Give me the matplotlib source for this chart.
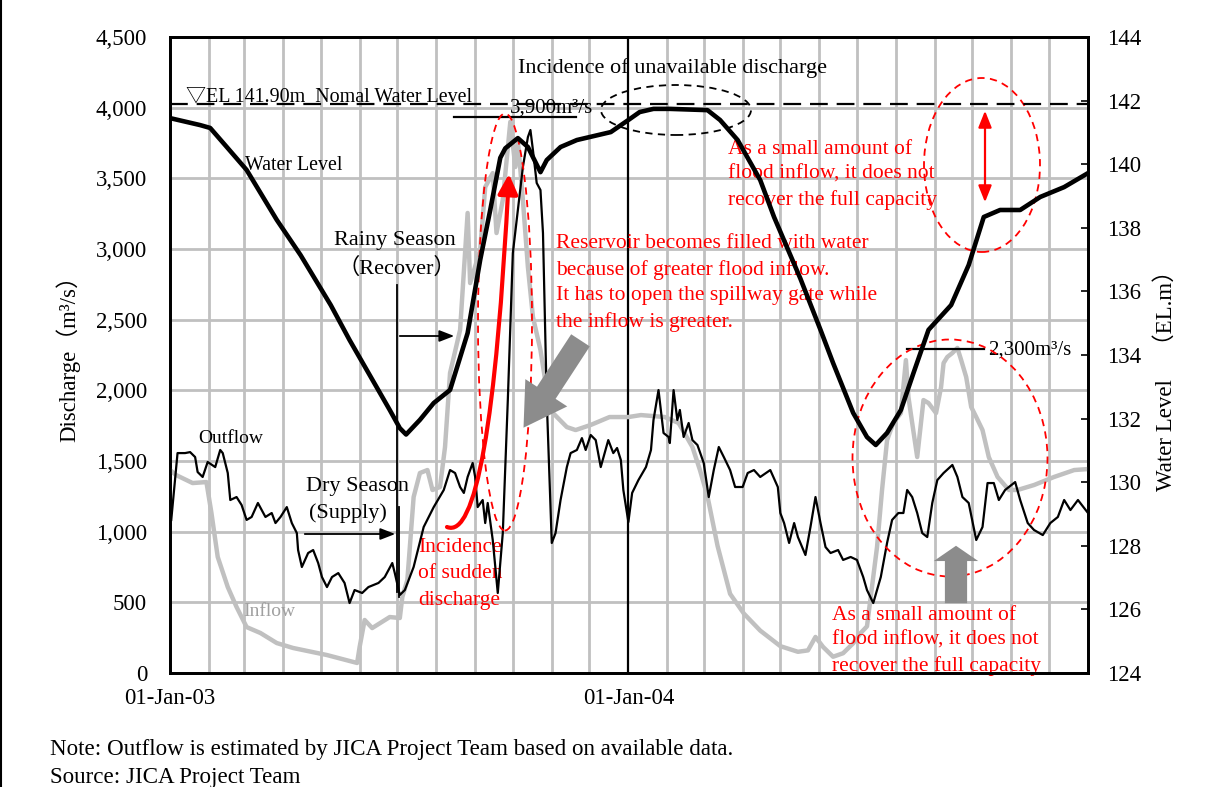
import numpy as np
import matplotlib
matplotlib.use("Agg")
import matplotlib.pyplot as plt
import matplotlib.dates as mdates
from matplotlib.patches import Ellipse, FancyArrowPatch
from matplotlib.path import Path
from matplotlib.ticker import FuncFormatter, MultipleLocator

plt.rcParams['font.family'] = ['Liberation Serif', 'Noto Sans CJK JP', 'DejaVu Sans']

# ---------------- data (day offset from 01-Jan-2003) ----------------
start_date = np.datetime64('2003-01-01')

inflow_day = [0, 5, 8, 18, 29, 33, 38, 46, 53, 61,
              72, 85, 98, 125, 149, 151, 155, 161, 175, 183,
              185, 189, 194, 199, 205, 209, 215, 219, 223, 231,
              237, 239, 247, 251, 257, 260, 265, 271, 275, 277,
              281, 285, 289, 295, 300, 305, 316, 323, 335, 350,
              365, 375, 394, 405, 416, 422, 428, 436, 446, 457,
              470, 486, 500, 508, 514, 520, 528, 536, 544, 550,
              555, 563, 567, 571, 576, 582, 586, 588, 591, 595,
              600, 604, 610, 614, 616, 619, 623, 627, 630, 634,
              638, 642, 647, 652, 659, 668, 675, 688, 704, 720,
              731]
inflow_q = [1436, 1400, 1387, 1344, 1351, 1132, 821, 608, 467, 325,
            283, 212, 177, 127, 71, 184, 375, 318, 396, 389,
            538, 658, 1245, 1415, 1436, 1295, 1316, 1599, 2123, 2427,
            3255, 2759, 2993, 3438, 3537, 3113, 3347, 3900, 3580, 3771,
            3347, 2872, 2519, 2285, 2002, 1839, 1740, 1719, 1755, 1811,
            1811, 1825, 1811, 1769, 1599, 1436, 1250, 900, 560, 420,
            300, 190, 150, 160, 255, 185, 115, 140, 210, 283,
            330, 891, 1295, 1648, 1769, 1839, 2214, 1953, 1769, 1528,
            1931, 1910, 1839, 2023, 2193, 2236, 2264, 2300, 2214, 2094,
            1882, 1811, 1719, 1528, 1387, 1295, 1295, 1330, 1387, 1436,
            1443]

outflow_day = [1, 6, 12, 16, 20, 22, 26, 30, 36, 40,
               42, 46, 48, 53, 57, 61, 65, 70, 76, 81,
               84, 88, 93, 97, 101, 102, 105, 110, 114, 118,
               121, 125, 129, 134, 139, 143, 147, 153, 158, 166,
               171, 177, 179, 183, 187, 194, 202, 210, 218, 223,
               227, 231, 234, 237, 241, 243, 245, 249, 251, 253,
               257, 261, 265, 269, 273, 277, 281, 285, 287, 289,
               292, 295, 297, 300, 304, 307, 311, 316, 319, 324,
               328, 331, 335, 339, 343, 349, 353, 356, 359, 361,
               365, 368, 373, 379, 383, 385, 389, 393, 397, 398,
               401, 404, 406, 409, 413, 416, 420, 425, 429, 433,
               437, 441, 446, 450, 456, 460, 465, 470, 478, 484,
               486, 489, 493, 497, 500, 506, 510, 514, 518, 522,
               526, 532, 536, 542, 547, 552, 555, 560, 566, 571,
               575, 580, 584, 587, 591, 595, 599, 603, 607, 611,
               616, 623, 627, 631, 636, 642, 647, 651, 656, 660,
               665, 673, 677, 683, 688, 695, 701, 707, 712, 717,
               723, 731]
outflow_q = [1083, 1556, 1556, 1563, 1528, 1422, 1387, 1493, 1457, 1578,
             1556, 1415, 1224, 1245, 1189, 1083, 1104, 1203, 1104, 1132,
             1061, 1104, 1174, 1061, 990, 870, 750, 849, 870, 778,
             679, 608, 679, 707, 637, 495, 587, 566, 608, 637,
             679, 778, 707, 552, 587, 750, 1033, 1174, 1295, 1436,
             1415, 1316, 1274, 1387, 1486, 1387, 1174, 1224, 1061, 1203,
             941, 566, 990, 1931, 2971, 3276, 3580, 3792, 3842, 3700,
             3467, 3417, 3113, 1931, 920, 990, 1224, 1457, 1556, 1578,
             1662, 1578, 1684, 1648, 1457, 1648, 1556, 1592, 1507, 1295,
             1068, 1274, 1365, 1457, 1578, 1790, 2002, 1698, 1670, 1627,
             2002, 1790, 1861, 1670, 1769, 1648, 1613, 1486, 1245, 1436,
             1599, 1528, 1436, 1316, 1316, 1415, 1436, 1387, 1436, 1316,
             1132, 1061, 920, 1061, 962, 835, 1033, 1245, 1061, 891,
             849, 870, 800, 821, 800, 679, 587, 495, 679, 920,
             1083, 1132, 1132, 1295, 1245, 1132, 990, 962, 1203, 1365,
             1415, 1472, 1387, 1245, 1203, 941, 1033, 1344, 1344, 1224,
             1295, 1351, 1224, 1061, 1012, 976, 1061, 1104, 1224, 1153,
             1224, 1132]

level_day = [0, 24, 32, 45, 61, 85, 104, 128, 143, 159,
             175, 183, 188, 199, 210, 223, 237, 247, 255, 263,
             267, 277, 285, 295, 300, 311, 324, 351, 365, 374,
             385, 398, 428, 438, 452, 470, 481, 502, 518, 528,
             544, 555, 562, 571, 582, 592, 604, 622, 636, 648,
             661, 677, 693, 712, 731]
level_el = [141.45, 141.23, 141.14, 140.55, 139.82, 138.25, 137.14, 135.57, 134.47, 133.37,
            132.27, 131.70, 131.50, 131.96, 132.49, 132.90, 134.69, 136.99, 138.56, 140.20,
            140.50, 140.82, 140.54, 139.75, 140.13, 140.54, 140.76, 141.01, 141.39, 141.64,
            141.74, 141.74, 141.70, 141.39, 140.76, 139.50, 138.34, 136.40, 134.79, 133.75,
            132.18, 131.42, 131.17, 131.55, 132.27, 133.43, 134.79, 135.57, 136.83, 138.34,
            138.56, 138.56, 138.97, 139.28, 139.72]

normal_water_level = 141.90
x_tick_dates = ['2003-01-01', '2004-01-01']
x_tick_labels = ['01-Jan-03', '01-Jan-04']


def to_dates(days):
    return start_date + np.array(days, dtype='timedelta64[D]')


# ---------------- figure ----------------
W, H = 1228, 787
fig = plt.figure(figsize=(W / 100, H / 100), dpi=100)
ax = fig.add_axes([170 / W, 1 - 673 / H, 918 / W, 636 / H])

GRID = '#c0c0c0'
TICK_FS = 16.5
ax.plot(to_dates(inflow_day), inflow_q, color=GRID, lw=3.2, solid_joinstyle='round', zorder=3)
ax.plot(to_dates(outflow_day), outflow_q, color='black', lw=1.6, zorder=4)

ax.set_xlim(start_date, start_date + np.timedelta64(731, 'D'))
ax.set_ylim(0, 4500)
ax.yaxis.set_major_locator(MultipleLocator(500))
ax.yaxis.set_major_formatter(FuncFormatter(lambda v, p: f'{int(v):,}'))
ax.set_xticks(np.array(x_tick_dates, dtype='datetime64[D]'))
ax.set_xticklabels(x_tick_labels)
ax.xaxis.set_minor_locator(mdates.MonthLocator())
ax.set_axisbelow(True)
ax.grid(which='major', axis='y', color=GRID, lw=2)
ax.grid(which='minor', axis='x', color=GRID, lw=2)
ax.tick_params(axis='y', length=0, pad=16.5, labelsize=TICK_FS)
ax.tick_params(axis='x', which='both', length=0, pad=11, labelsize=TICK_FS)
ax.axvline(np.datetime64('2004-01-01'), color='black', lw=1.6, zorder=2.5)
for s in ax.spines.values():
    s.set_linewidth(2)

ax2 = ax.twinx()
ax2.plot(to_dates(level_day), level_el, color='black', lw=3.3, solid_joinstyle='round', zorder=5)
ax2.axhline(normal_water_level, color='black', lw=1.6, ls=(0, (8, 4)), zorder=4)
ax2.set_ylim(124, 144)
ax2.yaxis.set_major_locator(MultipleLocator(2))
ax2.tick_params(axis='y', direction='in', length=5, width=1.2, pad=13.5, labelsize=TICK_FS)
for s in ax2.spines.values():
    s.set_linewidth(2)

# axis titles
fig.text(68 / W, 1 - 353 / H, 'Discharge（m³/s）', rotation=90, ha='center', va='center', fontsize=16.5)
fig.text(1166 / W, 1 - 375 / H, 'Water Level　（EL.m）', rotation=90, ha='center', va='center', fontsize=16.5)

# notes
fig.text(50 / W, 1 - 750 / H, 'Note: Outflow is estimated by JICA Project Team based on available data.',
         ha='left', va='center', fontsize=16.6)
fig.text(50 / W, 1 - 777 / H, 'Source: JICA Project Team', ha='left', va='center', fontsize=16.6)


# ---------------- annotations (axes-fraction positions) ----------------
def P(x, y):
    return ((x - 170) / 918, (673 - y) / 636)


T = ax.transAxes
RED = '#ff0000'
FS = 16
RFS = 15.5

ax.text(*P(672, 68), 'Incidence of unavailable discharge', transform=T, ha='center', va='center', fontsize=FS)
ax.text(*P(186, 98), '▽EL 141.90m  Nomal Water Level', transform=T, ha='left', va='center', fontsize=14.4)
ax.text(*P(510, 108), '3,900m³/s', transform=T, ha='left', va='center', fontsize=15)
ax.plot(*zip(P(454, 117), P(576, 117)), transform=T, color='black', lw=1.6, zorder=6)
ax.text(*P(245, 165), 'Water Level', transform=T, ha='left', va='center', fontsize=14.3)
ax.text(*P(395, 241), 'Rainy Season', transform=T, ha='center', va='center', fontsize=FS)
ax.text(*P(397, 268), '（Recover）', transform=T, ha='center', va='center', fontsize=FS)
ax.plot(*zip(P(397, 285), P(397, 592)), transform=T, color='black', lw=1.3, zorder=6)
ax.annotate('', xy=P(457, 336), xytext=P(397, 336), xycoords=T, textcoords=T,
            arrowprops=dict(arrowstyle='-|>,head_length=0.9,head_width=0.35', color='black', lw=1.3))
ax.text(*P(357, 487), 'Dry Season', transform=T, ha='center', va='center', fontsize=FS)
ax.text(*P(348, 513), '(Supply)', transform=T, ha='center', va='center', fontsize=FS)
ax.plot(*zip(P(399, 507), P(399, 597)), transform=T, color='black', lw=1.3, zorder=6)
ax.annotate('', xy=P(398, 534), xytext=P(302, 534), xycoords=T, textcoords=T,
            arrowprops=dict(arrowstyle='-|>,head_length=0.9,head_width=0.35', color='black', lw=1.3))
ax.text(*P(198, 438), 'Outflow', transform=T, ha='left', va='center', fontsize=14)
ax.text(*P(243, 611), 'Inflow', transform=T, ha='left', va='center', fontsize=14, color='#a0a0a0')

ax.text(*P(418, 574), 'Incidence\nof sudden\ndischarge', transform=T, ha='left', va='center',
        fontsize=RFS, color=RED, linespacing=1.5)
ax.text(*P(556, 283), 'Reservoir becomes filled with water\nbecause of greater flood inflow.\n'
        'It has to open the spillway gate while\nthe inflow is greater.', transform=T,
        ha='left', va='center', fontsize=RFS, color=RED, linespacing=1.45)
ax.text(*P(728, 175), 'As a small amount of\nflood inflow, it does not\nrecover the full capacity',
        transform=T, ha='left', va='center', fontsize=RFS, color=RED, linespacing=1.42)
ax.text(*P(832, 641), 'As a small amount of\nflood inflow, it does not\nrecover the full capacity',
        transform=T, ha='left', va='center', fontsize=RFS, color=RED, linespacing=1.42)
ax.text(*P(988, 350), '2,300m³/s', transform=T, ha='left', va='center', fontsize=15)
ax.plot(*zip(P(907, 349), P(984, 349)), transform=T, color='black', lw=1.6, zorder=6)

# ellipses
for (cx, cy, w, h, col) in [(505, 322, 54, 417, RED), (676, 110, 150, 50, 'black'),
                            (982, 165, 116, 174, RED), (950, 458, 195, 237, RED)]:
    c = P(cx, cy)
    ax.add_patch(Ellipse(c, w / 918, h / 636, transform=T, fill=False, edgecolor=col,
                         lw=1.3, ls=(0, (4, 3)), zorder=7))

# red curved arrow
A, C, B = P(447, 527), P(490, 545), P(509, 174)
curve = FancyArrowPatch(path=Path([A, C, B], [Path.MOVETO, Path.CURVE3, Path.CURVE3]),
                        arrowstyle='-|>,head_length=12,head_width=6', mutation_scale=1,
                        color=RED, lw=3, transform=T, zorder=8)
ax.add_patch(curve)

# red double arrow
ax.annotate('', xy=P(985, 108), xytext=P(985, 205), xycoords=T, textcoords=T,
            arrowprops=dict(arrowstyle='<|-|>,head_length=1.0,head_width=0.4', color=RED, lw=1.6))

# gray block arrows
ax.add_patch(FancyArrowPatch(P(582, 338), P(522, 430), transform=T, mutation_scale=1,
                             arrowstyle='simple,head_length=30,head_width=36,tail_width=16',
                             color='#8c8c8c', lw=0, zorder=8))
ax.add_patch(FancyArrowPatch(P(956, 606), P(956, 543), transform=T, mutation_scale=1,
                             arrowstyle='simple,head_length=11,head_width=32,tail_width=16',
                             color='#8c8c8c', lw=0, zorder=8))

# outer frame line at left edge
fig.add_artist(plt.Line2D([1 / W, 1 / W], [0, 1], transform=fig.transFigure, color='black', lw=1.5))

fig.savefig('out.png', dpi=100)
